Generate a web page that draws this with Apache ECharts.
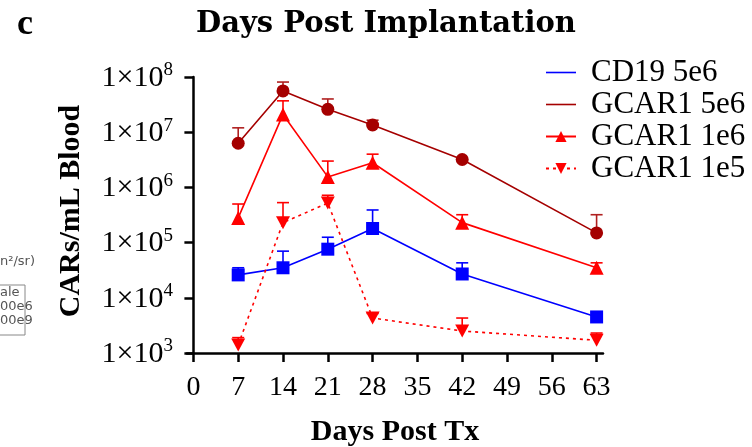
<!DOCTYPE html>
<html>
<head>
<meta charset="utf-8">
<script src="https://cdn.jsdelivr.net/npm/echarts@6/dist/echarts.min.js"></script>
<style>html,body{margin:0;padding:0;background:#fff}#c{width:752px;height:447px}</style>
</head>
<body>
<div id="c"></div>
<script>
// ---- data ----
const days = [7, 14, 21, 28, 42, 63];
const xTicks = [0, 7, 14, 21, 28, 35, 42, 49, 56, 63];
const yTickExps = [3, 4, 5, 6, 7, 8];
const seriesNames = ['CD19 5e6', 'GCAR1 5e6', 'GCAR1 1e6', 'GCAR1 1e5'];
const cd19_5e6 = [2.6e4, 3.5e4, 7.6e4, 1.8e5, 2.7e4, 4.5e3];
const cd19_5e6_err = [3.5e4, 7e4, 1.25e5, 3.9e5, 4.3e4, null];
const gcar1_5e6 = [6.3e6, 5.6e7, 2.6e7, 1.35e7, 3.2e6, 1.5e5];
const gcar1_5e6_err = [1.2e7, 8.1e7, 4.0e7, 1.65e7, null, 3.2e5];
const gcar1_1e6 = [2.8e5, 2.1e7, 1.55e6, 2.8e6, 2.3e5, 3.5e4];
const gcar1_1e6_err = [5e5, 3.7e7, 3.0e6, 4.0e6, 3.2e5, 4.3e4];
const gcar1_1e5 = [1.4e3, 2.3e5, 5.2e5, 4.3e3, 2.5e3, 1.7e3];
const gcar1_1e5_err = [1.9e3, 5.3e5, 7.2e5, 5.2e3, 4.3e3, 2.3e3];

const colors = ['#0000ff', '#a50000', '#ff0000', '#ff0000'];
const SERIF = '"Liberation Serif", "Times New Roman", serif';

function pairs(vals) { return days.map((d, i) => [d, vals[i]]); }
function errPairs(vals, tops) {
  return days.map((d, i) => [d, vals[i], tops[i]]).filter(p => p[2] != null);
}
function errSeries(vals, tops, color) {
  return {
    type: 'custom',
    silent: true,
    z: 1,
    data: errPairs(vals, tops),
    renderItem: function (params, api) {
      const p0 = api.coord([api.value(0), api.value(1)]);
      const p1 = api.coord([api.value(0), api.value(2)]);
      const hw = 6;
      return {
        type: 'group',
        children: [
          { type: 'line', shape: { x1: p0[0], y1: p0[1], x2: p1[0], y2: p1[1] }, style: { stroke: color, lineWidth: 1.6 } },
          { type: 'line', shape: { x1: p1[0] - hw, y1: p1[1], x2: p1[0] + hw, y2: p1[1] }, style: { stroke: color, lineWidth: 1.6 } }
        ]
      };
    }
  };
}

const chart = echarts.init(document.getElementById('c'), null, { renderer: 'canvas' });
const downTri = 'path://M0,0L20,0L10,17Z';

chart.setOption({
  animation: false,
  backgroundColor: '#fff',
  title: {
    text: 'Days Post Implantation',
    left: 381, top: 5, textAlign: 'center',
    textStyle: { fontFamily: '"DejaVu Serif", Georgia, serif', fontWeight: 'bold', fontSize: 29, color: '#000' }
  },
  legend: {
    orient: 'vertical',
    left: 540, top: 52,
    itemWidth: 30, itemHeight: 14, itemGap: 1,
    textStyle: { fontFamily: SERIF, fontSize: 31, color: '#000', padding: [0, 0, 0, 10], lineHeight: 30 },
    data: [
      { name: seriesNames[0], icon: 'path://M0,0L30,0L30,1.6L0,1.6Z' },
      { name: seriesNames[1], icon: 'path://M0,0L30,0L30,1.6L0,1.6Z' },
      { name: seriesNames[2] },
      { name: seriesNames[3] }
    ]
  },
  grid: { left: 187, top: 77, right: 149, bottom: 94, containLabel: false, outerBoundsMode: 'none' },
  xAxis: {
    type: 'value', min: -1, max: 64,
    name: 'Days Post Tx', nameLocation: 'middle', nameGap: 64,
    nameTextStyle: { fontFamily: SERIF, fontWeight: 'bold', fontSize: 30, color: '#000' },
    splitLine: { show: false },
    axisLine: { lineStyle: { color: '#000', width: 2.5 } },
    axisTick: { show: true, customValues: xTicks, length: 9, lineStyle: { color: '#000', width: 2.5 } },
    axisLabel: { customValues: xTicks, margin: 21, fontFamily: SERIF, fontSize: 28, color: '#000' }
  },
  yAxis: {
    type: 'log', logBase: 10, min: 1e3, max: 1e8,
    name: 'CARs/mL Blood', nameLocation: 'middle', nameGap: 101, nameRotate: 90,
    nameTextStyle: { fontFamily: SERIF, fontWeight: 'bold', fontSize: 30, color: '#000', padding: [0, 0, 0, 8] },
    splitLine: { show: false },
    axisLine: { show: true, lineStyle: { color: '#000', width: 2.5 } },
    axisTick: { show: true, customValues: yTickExps.map(e => Math.pow(10, e)), length: 9, lineStyle: { color: '#000', width: 2.5 } },
    axisLabel: {
      customValues: yTickExps.map(e => Math.pow(10, e)),
      margin: 14,
      formatter: function (v) { return '{b|1×10}{s|' + Math.round(Math.log10(v)) + '}'; },
      rich: {
        b: { fontFamily: SERIF, fontSize: 30, color: '#000', lineHeight: 32, verticalAlign: 'bottom' },
        s: { fontFamily: SERIF, fontSize: 19, color: '#000', lineHeight: 32, verticalAlign: 'top' }
      }
    }
  },
  series: [
    { name: seriesNames[0], type: 'line', data: pairs(cd19_5e6), symbol: 'rect', symbolSize: 13,
      itemStyle: { color: colors[0] }, lineStyle: { color: colors[0], width: 1.6 }, z: 3 },
    { name: seriesNames[1], type: 'line', data: pairs(gcar1_5e6), symbol: 'circle', symbolSize: 13,
      itemStyle: { color: colors[1] }, lineStyle: { color: colors[1], width: 1.6 }, z: 3 },
    { name: seriesNames[2], type: 'line', data: pairs(gcar1_1e6), symbol: 'triangle', symbolSize: 14,
      itemStyle: { color: colors[2] }, lineStyle: { color: colors[2], width: 1.6 }, z: 3 },
    { name: seriesNames[3], type: 'line', data: pairs(gcar1_1e5), symbol: downTri, symbolSize: [14, 13],
      itemStyle: { color: colors[3] }, lineStyle: { color: colors[3], width: 1.6, type: [3, 4] }, z: 3 },
    errSeries(cd19_5e6, cd19_5e6_err, colors[0]),
    errSeries(gcar1_5e6, gcar1_5e6_err, '#b02020'),
    errSeries(gcar1_1e6, gcar1_1e6_err, colors[2]),
    errSeries(gcar1_1e5, gcar1_1e5_err, colors[3])
  ],
  graphic: [
    { type: 'text', left: 17, top: 7, style: { text: 'c', font: 'bold 36px ' + SERIF, fill: '#000' } },
    { type: 'text', left: 0, top: 255, style: { text: 'n²/sr)', font: '13px "DejaVu Sans", sans-serif', fill: '#555' } },
    { type: 'rect', shape: { x: -10, y: 285, width: 35, height: 50 }, style: { fill: 'none', stroke: '#888', lineWidth: 1 } },
    { type: 'text', left: 0, top: 286, style: { text: 'ale', font: '13px "DejaVu Sans", sans-serif', fill: '#555' } },
    { type: 'text', left: 0, top: 300, style: { text: '00e6', font: '13px "DejaVu Sans", sans-serif', fill: '#555' } },
    { type: 'text', left: 0, top: 314, style: { text: '00e9', font: '13px "DejaVu Sans", sans-serif', fill: '#555' } }
  ]
});
</script>
</body>
</html>
